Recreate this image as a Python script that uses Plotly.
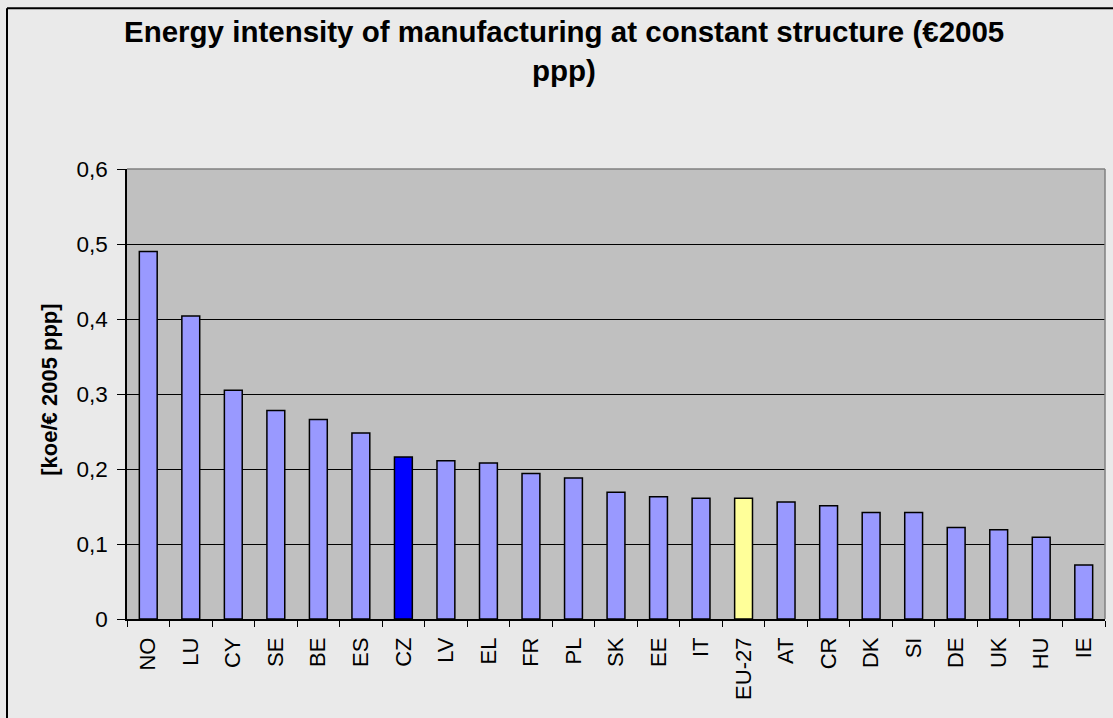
import plotly.graph_objects as go

# Countries, ranked by energy intensity
countries = ["NO", "LU", "CY", "SE", "BE", "ES", "CZ", "LV", "EL", "FR", "PL", "SK",
             "EE", "IT", "EU-27", "AT", "CR", "DK", "SI", "DE", "UK", "HU", "IE"]
intensity = [0.490, 0.404, 0.305, 0.278, 0.266, 0.248, 0.216, 0.211, 0.208, 0.194,
             0.188, 0.169, 0.163, 0.161, 0.161, 0.156, 0.151, 0.142, 0.142, 0.122,
             0.119, 0.109, 0.072]

y_tick_values = [0, 0.1, 0.2, 0.3, 0.4, 0.5, 0.6]
y_tick_labels = ["0", "0,1", "0,2", "0,3", "0,4", "0,5", "0,6"]

title_line1 = "Energy intensity of manufacturing at constant structure (€2005"
title_line2 = "ppp)"
y_title = "[koe/€ 2005 ppp]"

BASE = "#9999FF"
HIGHLIGHT = {"CZ": "#0000FF", "EU-27": "#FFFF99"}
colors = [HIGHLIGHT.get(c, BASE) for c in countries]

FONT = "Arial, Liberation Sans, sans-serif"

W, H = 1113, 718
L, R, T, B = 127, 8, 169, 98.5
pw = W - L - R
ph = H - T - B


def px_x(x):
    return (x - L) / pw


def px_y(y):
    return (H - B - y) / ph


fig = go.Figure(
    go.Bar(
        x=countries,
        y=intensity,
        marker=dict(color=colors, line=dict(color="black", width=1.5)),
    )
)

fig.update_layout(
    width=W,
    height=H,
    margin=dict(l=L, r=R, t=T, b=B, pad=0),
    paper_bgcolor="#EAEAEA",
    plot_bgcolor="#C0C0C0",
    bargap=0.58,
    showlegend=False,
    font=dict(family=FONT, color="black"),
)

fig.update_xaxes(
    type="category",
    tickson="boundaries",
    ticks="outside",
    ticklen=6,
    tickwidth=1.2,
    tickcolor="black",
    tickangle=-90,
    ticklabelstandoff=8,
    tickfont=dict(size=22, family=FONT, color="black"),
    showline=True,
    linecolor="black",
    linewidth=1.5,
    showgrid=False,
)

fig.update_yaxes(
    range=[0, 0.6],
    tickvals=y_tick_values,
    ticktext=y_tick_labels,
    ticks="outside",
    ticklen=8,
    tickwidth=1.2,
    tickcolor="black",
    ticklabelstandoff=5,
    tickfont=dict(size=22.5, family=FONT, color="black"),
    showline=True,
    linecolor="black",
    linewidth=1.5,
    showgrid=True,
    gridcolor="black",
    gridwidth=1.2,
    zeroline=False,
)

# Plot-area frame on the top and right, chart frame on the left and top
fig.add_shape(type="line", xref="paper", yref="paper", x0=0, x1=1, y0=1, y1=1,
              line=dict(color="#808080", width=1.5), layer="above")
fig.add_shape(type="line", xref="paper", yref="paper", x0=1, x1=1, y0=0, y1=1,
              line=dict(color="#808080", width=1.5), layer="above")
fig.add_shape(type="line", xref="paper", yref="paper",
              x0=px_x(7), x1=px_x(7), y0=px_y(8), y1=px_y(H + 5),
              line=dict(color="black", width=2), layer="above")
fig.add_shape(type="line", xref="paper", yref="paper",
              x0=px_x(7), x1=px_x(W + 5), y0=px_y(8), y1=px_y(8),
              line=dict(color="black", width=2), layer="above")

fig.add_annotation(text=f"<b>{title_line1}</b>", xref="paper", yref="paper",
                   x=px_x(564), y=px_y(31), xanchor="center", yanchor="middle",
                   showarrow=False, font=dict(size=29.5, family=FONT, color="black"))
fig.add_annotation(text=f"<b>{title_line2}</b>", xref="paper", yref="paper",
                   x=px_x(564), y=px_y(70), xanchor="center", yanchor="middle",
                   showarrow=False, font=dict(size=29.5, family=FONT, color="black"))
fig.add_annotation(text=f"<b>{y_title}</b>", xref="paper", yref="paper",
                   x=px_x(50), y=px_y(390), xanchor="center", yanchor="middle",
                   textangle=-90, showarrow=False,
                   font=dict(size=22, family=FONT, color="black"))

fig.write_html("out.html")
